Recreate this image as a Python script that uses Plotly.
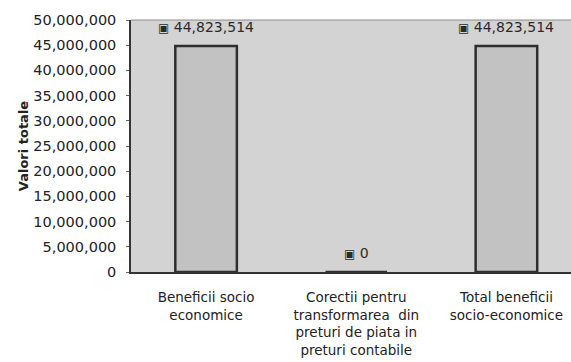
import plotly.graph_objects as go

categorii = [
    "Beneficii socio<br>economice",
    "Corectii pentru<br>transformarea  din<br>preturi de piata in<br>preturi contabile",
    "Total beneficii<br>socio-economice",
]
valori = [44823514, 0, 44823514]
y_ticks = list(range(0, 50000001, 5000000))

x_pos = list(range(len(categorii)))
font = "DejaVu Sans, Arial, sans-serif"

fig = go.Figure()
fig.add_trace(go.Bar(
    x=x_pos, y=valori, width=0.41,
    marker=dict(color="#c2c2c2", line=dict(color="#2e2e2e", width=2.5)),
    hoverinfo="skip",
))

# etichete de date cu simbolul patrat in fata
for xi, v in zip(x_pos, valori):
    fig.add_annotation(
        x=xi, y=v, yshift=19, showarrow=False,
        text="<span style='font-size:12px'>▣</span> " + f"{v:,}",
        font=dict(family=font, size=14, color="#2a2a2a"),
    )

# linia subtire de sus a zonei de grafic
fig.add_shape(type="line", xref="paper", yref="paper", x0=0, x1=1, y0=1, y1=1,
              line=dict(color="#8c8c8c", width=1))

fig.update_layout(
    width=571, height=362,
    margin=dict(l=131, r=0, t=20, b=90),
    paper_bgcolor="white",
    plot_bgcolor="#d3d3d3",
    showlegend=False,
    font=dict(family=font, size=14, color="#222222"),
    xaxis=dict(
        range=[-0.5, 2.43], tickvals=x_pos, ticktext=categorii,
        showline=True, linecolor="#333333", linewidth=1.5,
        showgrid=False, zeroline=False, ticks="",
        tickfont=dict(size=13.5), ticklabelstandoff=12,
    ),
    yaxis=dict(
        range=[0, 50000000], tickvals=y_ticks, tickformat=",",
        showline=True, linecolor="#333333", linewidth=1.5,
        showgrid=False, zeroline=False, ticks="outside", ticklen=3,
        tickcolor="#666666", ticklabelstandoff=7,
        title=dict(text="<b>Valori totale</b>", font=dict(size=13), standoff=2),
        tickfont=dict(size=14.5),
    ),
)

# fara marginea implicita a paginii
fig.write_html("out.html", config={"displayModeBar": False},
               post_script="document.body.style.margin='0';")
